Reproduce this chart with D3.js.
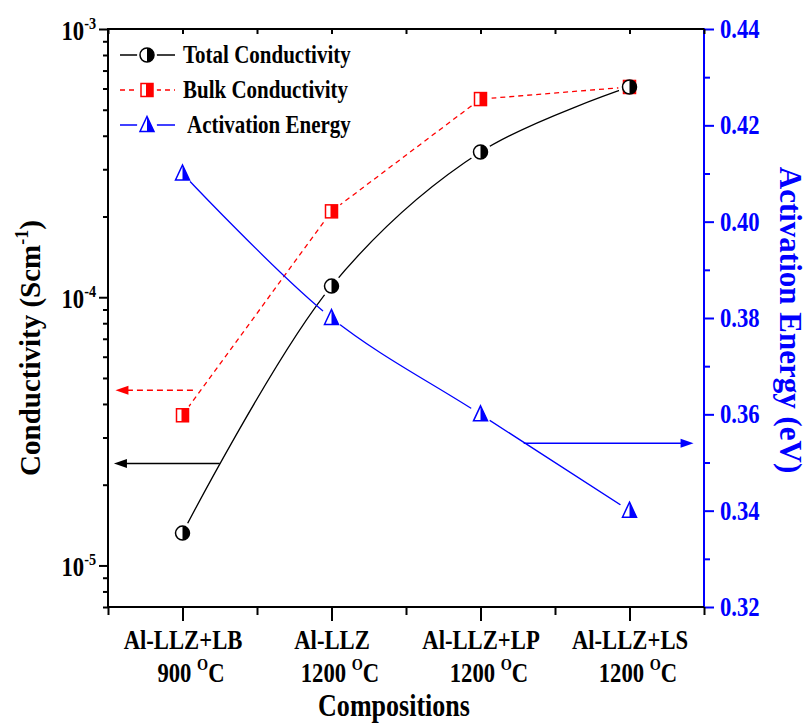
<!DOCTYPE html>
<html>
<head>
<meta charset="utf-8">
<script src="https://cdn.jsdelivr.net/npm/d3@7"></script>
<style>
body { margin: 0; background: #fff; }
svg text { font-family: "Liberation Serif", "Times New Roman", serif; font-weight: bold; }
</style>
</head>
<body>
<svg id="chart" width="812" height="726"></svg>
<script>
// categories and values
var categories = ["Al-LLZ+LB", "Al-LLZ", "Al-LLZ+LP", "Al-LLZ+LS"];
var temps = ["900", "1200", "1200", "1200"];
var totalCond = [1.32e-5, 1.10e-4, 3.48e-4, 6.08e-4];
var bulkCond = [3.63e-5, 2.09e-4, 5.48e-4, 6.08e-4];
var actEnergy = [0.41, 0.38, 0.36, 0.34];
var condTicks = [1e-5, 1e-4, 1e-3];
var energyTicks = [0.32, 0.34, 0.36, 0.38, 0.40, 0.42, 0.44];
var legendNames = ["Total Conductivity", "Bulk Conductivity", "Activation Energy"];
// arrows: [from index, to index, value]
var arrowTotal = [0.25, -0.46, 2.4e-5];
var arrowBulk = [0.07, -0.45, 4.5e-5];
var arrowEnergy = [2.29, 3.43, 0.354];

var W = 812, H = 726;
var mLeft = 108, mRight = 704, mTop = 29, mBottom = 607;
var BLUE = "#0000ff", RED = "#ff0000";
var SQ = 0.84; // the original text looks squeezed sideways

var svg = d3.select("#chart");

var x = d3.scalePoint().domain(categories).range([mLeft, mRight]).padding(0.5);
var xi = d3.scaleLinear().domain([-0.5, 3.5]).range([mLeft, mRight]);
var yL = d3.scaleLog().domain([7e-6, 1e-3]).range([mBottom, mTop]);
var yR = d3.scaleLinear().domain([0.32, 0.44]).range([mBottom, mTop]);

function squeeze(sel, origin) {
    sel.style("transform-box", "fill-box")
        .style("transform-origin", origin || "center")
        .style("transform", "scaleX(" + SQ + ")");
}

// ---- axes ----
var minorL = yL.ticks().filter(function (d) {
    return condTicks.every(function (c) { return Math.abs(c - d) / c > 1e-6; });
});
svg.append("g").attr("transform", "translate(" + mLeft + ",0)")
    .call(d3.axisLeft(yL).tickValues(minorL).tickSize(5).tickFormat(""))
    .call(function (g) { g.select(".domain").remove(); g.selectAll("line").attr("stroke-width", 2); });

var gL = svg.append("g").attr("transform", "translate(" + mLeft + ",0)")
    .call(d3.axisLeft(yL).tickValues(condTicks).tickSize(9).tickFormat(""));
gL.select(".domain").attr("stroke-width", 2).attr("d", "M0," + (mBottom + 1) + "V" + (mTop - 1));
gL.selectAll("line").attr("stroke-width", 2);
gL.selectAll(".tick text").remove();
gL.selectAll(".tick").append("text")
    .attr("x", -12).attr("dy", "0.38em")
    .attr("text-anchor", "end").attr("fill", "#000")
    .style("font-size", "27px")
    .each(function (d) {
        var t = d3.select(this);
        t.append("tspan").text("10");
        t.append("tspan").attr("dy", -11).style("font-size", "17px").text(String(Math.round(Math.log10(d))));
    })
    .call(squeeze, "right center");

// right axis (blue)
var minorR = [0.33, 0.35, 0.37, 0.39, 0.41, 0.43];
svg.append("g").attr("transform", "translate(" + mRight + ",0)")
    .call(d3.axisRight(yR).tickValues(minorR).tickSize(6).tickFormat(""))
    .call(function (g) { g.select(".domain").remove(); g.selectAll("line").attr("stroke", BLUE).attr("stroke-width", 2); });
var gR = svg.append("g").attr("transform", "translate(" + mRight + ",0)")
    .call(d3.axisRight(yR).tickValues(energyTicks).tickSize(10).tickPadding(6).tickFormat(d3.format(".2f")));
gR.select(".domain").attr("stroke", BLUE).attr("stroke-width", 2).attr("d", "M0," + (mBottom + 1) + "V" + (mTop - 1));
gR.selectAll("line").attr("stroke", BLUE).attr("stroke-width", 2);
gR.selectAll("text").attr("fill", BLUE).style("font-size", "27px").call(squeeze, "left center");

// bottom axis
var halfTicks = [-0.5, 0.5, 1.5, 2.5, 3.5];
svg.append("g").attr("transform", "translate(0," + mBottom + ")")
    .call(d3.axisBottom(xi).tickValues(halfTicks).tickSize(8).tickFormat(""))
    .call(function (g) { g.select(".domain").remove(); g.selectAll("line").attr("stroke-width", 2); });
var gB = svg.append("g").attr("transform", "translate(0," + mBottom + ")")
    .call(d3.axisBottom(x).tickSize(14).tickFormat(""));
gB.select(".domain").attr("stroke-width", 2).attr("d", "M" + mLeft + ",0H" + mRight);
gB.selectAll("line").attr("stroke-width", 2);
gB.selectAll(".tick text").remove();
gB.selectAll(".tick").each(function (d, i) {
    var t = d3.select(this);
    t.append("text").attr("y", 42).attr("text-anchor", "middle").attr("fill", "#000")
        .style("font-size", "27px").text(d).call(squeeze);
    var t2 = t.append("text").attr("x", 8).attr("y", 75).attr("text-anchor", "middle").attr("fill", "#000")
        .style("font-size", "27px");
    t2.append("tspan").text(temps[i] + " ");
    t2.append("tspan").attr("dy", -12).style("font-size", "17px").text("O");
    t2.append("tspan").attr("dy", 12).text("C");
    t2.call(squeeze);
});

// top frame with inward ticks
var gT = svg.append("g").attr("transform", "translate(0," + mTop + ")")
    .call(d3.axisBottom(xi).tickValues([-0.5, 0, 0.5, 1, 1.5, 2, 2.5, 3, 3.5]).tickSize(5).tickFormat(""));
gT.select(".domain").remove();
gT.selectAll("line").attr("stroke-width", 2);
svg.append("line").attr("x1", mLeft).attr("x2", mRight).attr("y1", mTop).attr("y2", mTop)
    .attr("stroke", "#000").attr("stroke-width", 2);

// axis titles
svg.append("text").attr("x", (mLeft + mRight) / 2 - 12).attr("y", 716)
    .attr("text-anchor", "middle").style("font-size", "31px").text("Compositions").call(squeeze);

var tl = svg.append("g").attr("transform", "translate(40," + ((mTop + mBottom) / 2 + 30) + ") rotate(-90)")
    .append("text").attr("text-anchor", "middle").style("font-size", "29px");
tl.append("tspan").text("Conductivity (Scm");
tl.append("tspan").attr("dy", -12).style("font-size", "18px").text("-1");
tl.append("tspan").attr("dy", 12).text(")");

svg.append("g").attr("transform", "translate(780," + ((mTop + mBottom) / 2 + 2) + ") rotate(90)")
    .append("text").attr("text-anchor", "middle").attr("fill", BLUE)
    .style("font-size", "31px").text("Activation Energy (eV)");

// ---- series ----
var plot = svg.append("g");

var lineTotal = d3.line().x(function (d, i) { return x(categories[i]); }).y(function (d) { return yL(d); })
    .curve(d3.curveCatmullRom.alpha(0.5));
var lineBulk = d3.line().x(function (d, i) { return x(categories[i]); }).y(function (d) { return yL(d); });
var lineEnergy = d3.line().x(function (d, i) { return x(categories[i]); }).y(function (d) { return yR(d); })
    .curve(d3.curveCatmullRom.alpha(0.5));

plot.append("path").attr("d", lineTotal(totalCond)).attr("fill", "none").attr("stroke", "#000").attr("stroke-width", 1.3);
plot.append("path").attr("d", lineBulk(bulkCond)).attr("fill", "none").attr("stroke", RED)
    .attr("stroke-width", 1.3).attr("stroke-dasharray", "5,4");
plot.append("path").attr("d", lineEnergy(actEnergy)).attr("fill", "none").attr("stroke", BLUE).attr("stroke-width", 1.3);

// gaps round the symbols
var gapPts = [];
categories.forEach(function (c, i) {
    gapPts.push([x(c), yL(totalCond[i])], [x(c), yL(bulkCond[i])], [x(c), yR(actEnergy[i])]);
});
plot.selectAll(".gap").data(gapPts).enter().append("circle")
    .attr("cx", function (d) { return d[0]; }).attr("cy", function (d) { return d[1]; })
    .attr("r", 11).attr("fill", "#fff");

function circleMark(g) {
    g.append("circle").attr("r", 7).attr("fill", "#fff").attr("stroke", "#000").attr("stroke-width", 1.5);
    g.append("path").attr("d", "M0,-7A7,7 0 0,1 0,7Z").attr("fill", "#000");
}
function squareMark(g) {
    g.append("rect").attr("x", -6).attr("y", -6.5).attr("width", 12).attr("height", 13)
        .attr("fill", "#fff").attr("stroke", RED).attr("stroke-width", 1.5);
    g.append("rect").attr("x", -1).attr("y", -6.5).attr("width", 7).attr("height", 13).attr("fill", RED);
}
function triMark(g) {
    g.append("path").attr("d", "M0,-8.5L7,6.5L-7,6.5Z").attr("fill", "#fff")
        .attr("stroke", BLUE).attr("stroke-width", 1.5).attr("stroke-linejoin", "miter");
    g.append("path").attr("d", "M0,-8.5L7,6.5L0,6.5Z").attr("fill", BLUE);
}

categories.forEach(function (c, i) {
    plot.append("g").attr("transform", "translate(" + x(c) + "," + yL(bulkCond[i]) + ")").call(squareMark);
    plot.append("g").attr("transform", "translate(" + x(c) + "," + yL(totalCond[i]) + ")").call(circleMark);
    plot.append("g").attr("transform", "translate(" + x(c) + "," + yR(actEnergy[i]) + ")").call(triMark);
});

// ---- arrows ----
function arrow(x1, x2, y, color, dashed) {
    var dir = x2 > x1 ? 1 : -1;
    plot.append("line").attr("x1", x1).attr("x2", x2 - dir * 10).attr("y1", y).attr("y2", y)
        .attr("stroke", color).attr("stroke-width", 1.6)
        .attr("stroke-dasharray", dashed ? "6,4" : null);
    plot.append("path")
        .attr("d", "M" + x2 + "," + y + "L" + (x2 - dir * 13) + "," + (y - 4.5) + "L" + (x2 - dir * 13) + "," + (y + 4.5) + "Z")
        .attr("fill", color);
}
arrow(xi(arrowBulk[0]), xi(arrowBulk[1]), yL(arrowBulk[2]), RED, true);
arrow(xi(arrowTotal[0]), xi(arrowTotal[1]), yL(arrowTotal[2]), "#000", false);
arrow(xi(arrowEnergy[0]), xi(arrowEnergy[1]), yR(arrowEnergy[2]), BLUE, false);

// ---- legend ----
var legY = [55, 90, 125];
var lg = svg.append("g");
var marks = [circleMark, squareMark, triMark];
var cols = ["#000", RED, BLUE];
legendNames.forEach(function (name, i) {
    lg.append("line").attr("x1", 120).attr("x2", 175).attr("y1", legY[i]).attr("y2", legY[i])
        .attr("stroke", cols[i]).attr("stroke-width", 1.3)
        .attr("stroke-dasharray", i === 1 ? "5,4" : null);
    lg.append("circle").attr("cx", 147).attr("cy", legY[i]).attr("r", 10).attr("fill", "#fff");
    lg.append("g").attr("transform", "translate(147," + legY[i] + ")").call(marks[i]);
    lg.append("text").attr("x", i === 2 ? 187 : 183).attr("y", legY[i] + 8)
        .style("font-size", "25px").text(name).call(squeeze, "left center");
});
</script>
</body>
</html>
